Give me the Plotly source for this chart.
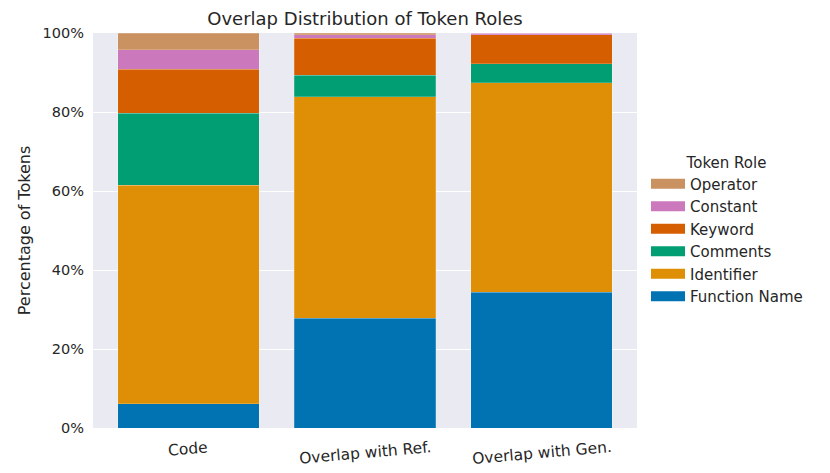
import plotly.graph_objects as go

categories = ["Code", "Overlap with Ref.", "Overlap with Gen."]
function_name = [6.1, 27.8, 34.4]
identifier = [55.4, 56.1, 53.0]
comments = [18.2, 5.4, 4.8]
keyword = [11.1, 9.35, 7.3]
constant = [4.9, 0.85, 0.4]
operator = [4.3, 0.5, 0.1]

series = [
    ("Function Name", function_name, "#0173B2"),
    ("Identifier", identifier, "#DE8F05"),
    ("Comments", comments, "#029E73"),
    ("Keyword", keyword, "#D55E00"),
    ("Constant", constant, "#CC78BC"),
    ("Operator", operator, "#CA9161"),
]

# page body has an 8px default margin; compensate
OFF = 8
W, H = 830 - OFF, 473 - OFF
L, T, R, B = 93 - OFF, 33 - OFF, 830 - 637, 473 - 428
PW = W - L - R

fig = go.Figure()
xs = list(range(len(categories)))
for name, vals, color in series:
    fig.add_trace(go.Bar(
        x=xs, y=vals, name=name, legendgroup=name, showlegend=False,
        marker=dict(color=color, line=dict(width=0.4, color="rgba(255,255,255,0.5)")),
        width=0.8,
    ))
    # legend swatch (wide rectangle like the reference)
    fig.add_trace(go.Scatter(
        x=[None], y=[None], mode="lines", name=name, legendgroup=name,
        line=dict(color=color, width=12),
    ))

annotations = [
    dict(x=i, y=0, xref="x", yref="paper", text=c, showarrow=False,
         textangle=-5, xanchor="center", yanchor="top", yshift=-8,
         font=dict(size=15.5, color="#262626"))
    for i, c in enumerate(categories)
]

fig.update_layout(
    width=W, height=H,
    barmode="stack",
    margin=dict(l=L, r=R, t=T, b=B, autoexpand=False),
    paper_bgcolor="white",
    plot_bgcolor="#EAEAF2",
    font=dict(family="DejaVu Sans", size=14.5, color="#262626"),
    title=dict(text="Overlap Distribution of Token Roles",
               x=(L + (W - R)) / 2 / W, xanchor="center",
               y=1 - 10.5 / H, yanchor="middle", font=dict(size=18)),
    xaxis=dict(
        range=[-0.54, 2.54], showgrid=False, zeroline=False,
        showticklabels=False, ticks="",
    ),
    yaxis=dict(
        range=[0, 100], tickvals=[0, 20, 40, 60, 80, 100],
        ticktext=["0%", "20%", "40%", "60%", "80%", "100%"],
        gridcolor="white", gridwidth=1.2, zeroline=False,
        ticklabelstandoff=8,
        title=dict(text="Percentage of Tokens", font=dict(size=16), standoff=7),
        tickfont=dict(size=14.5),
    ),
    legend=dict(
        title=dict(text="Token Role", font=dict(size=15), side="top center"),
        traceorder="reversed", font=dict(size=15), itemwidth=34,
        x=(646 - 637) / PW + 1.0, xanchor="left", y=0.5, yanchor="middle",
        bgcolor="rgba(0,0,0,0)",
    ),
    annotations=annotations,
)

fig.write_html("out.html")
